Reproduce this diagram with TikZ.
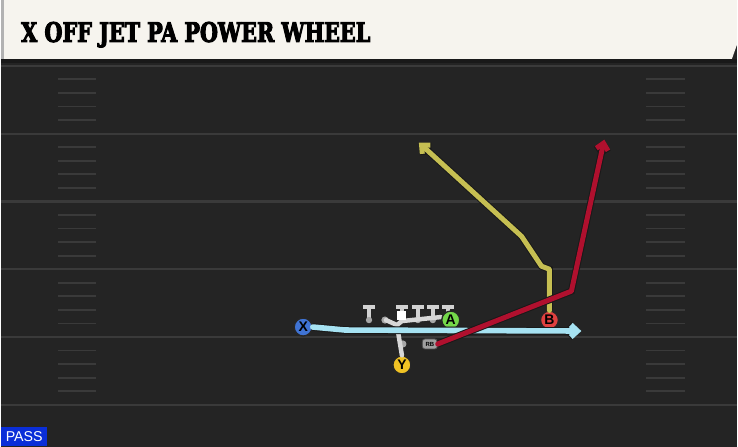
\documentclass[tikz,border=0pt]{standalone}
\usepackage{fontspec}
\setsansfont{Liberation Sans}
\newfontfamily\titlefont{DejaVu Serif Condensed Bold}[FakeBold=4]
\usepackage{xcolor}
\usetikzlibrary{arrows.meta}

\definecolor{field}{HTML}{242424}
\definecolor{yard}{HTML}{3A3A3A}
\definecolor{cream}{HTML}{F6F4EE}
\definecolor{xblue}{HTML}{3F73D4}
\definecolor{agreen}{HTML}{74D84A}
\definecolor{bred}{HTML}{E0403F}
\definecolor{yyellow}{HTML}{F0C224}
\definecolor{cyanroute}{HTML}{A6E2F2}
\definecolor{oliveroute}{HTML}{C6BF52}
\definecolor{redroute}{HTML}{B0102E}
\definecolor{lineman}{HTML}{D2D2D2}
\definecolor{passblue}{HTML}{0A2ED8}

\begin{document}
\begin{tikzpicture}[
    x=1pt,y=-1pt,
    yardline/.style={draw=yard,line width=2.2pt},
    hashmark/.style={draw=yard,line width=1.8pt},
    player/.style={circle,draw=black!85,line width=1.3pt,minimum size=18pt,inner sep=0pt,
        font=\sffamily\bfseries\fontsize{14}{14}\selectfont},
    route/.style={line width=5pt,line cap=round,line join=round,
        -{Straight Barb[length=6.5pt,width=12pt]},preaction={draw=black!90,line width=7pt}},
    blockline/.style={draw=lineman!90,line width=4.5pt,line cap=round,line join=round},
    rbbox/.style={rectangle,rounded corners=2.5pt,fill=gray!75,draw=black!70,line width=0.8pt,
        minimum width=15pt,minimum height=10pt,inner sep=0pt,
        font=\sffamily\bfseries\fontsize{6}{6}\selectfont}
]
	% field and header
	\fill[field] (0,0) rectangle (738,448);
	\fill[black!90] (0,59) rectangle (738,63);
	\foreach \yl in {66,134,...,406}
		\draw[yardline] (0,\yl) -- (738,\yl);
	\foreach \yl in {66,134,...,338}
		\foreach \k in {1,...,4} {
			\draw[hashmark] (57,\yl+13.6*\k) -- (95,\yl+13.6*\k);
			\draw[hashmark] (647,\yl+13.6*\k) -- (686,\yl+13.6*\k);
		}
	\fill[cream] (0,0) -- (738,0) -- (738,45) -- (733,59) -- (0,59) -- cycle;
	\fill[gray!60] (0,0) rectangle (2.5,59);
	\node[anchor=base west,inner sep=0pt] (title) at (20,42)
		{\resizebox{350pt}{20pt}{\titlefont X OFF JET PA POWER WHEEL}};

	% line
	\foreach \lx in {369,402,418,433,448} {
		\draw[lineman,line width=3.6pt] (\lx,309) -- (\lx,320);
		\draw[lineman,line width=4.6pt] (\lx-6,308) -- (\lx+6,308);
		\fill[gray!70] (\lx,321) circle (3.2pt);
	}
	\fill[gray!70] (385,321) circle (3.6pt);
	\coordinate (snap) at (397,326);
	\draw[blockline] (386,321) -- (snap) -- (402,322) -- (441,318);
	\fill[gray!70] (403,345) circle (3.6pt);

	% players
	\node[player,fill=xblue] (X) at (303,328) {X};
	\node[player,fill=agreen] (A) at (451,321) {A};
	\node[player,fill=bred] (B) at (550,321) {B};
	\node[player,fill=yyellow] (Y) at (402,366) {Y};
	\node[rbbox] (RB) at (430,345) {RB};
	\fill[white] (397,311.5) rectangle (406,320.5);
	\draw[blockline] (snap) -- (Y.north);

	% routes
	\coordinate (xtip) at (582,332);
	\coordinate (btip) at (419,143);
	\coordinate (rtip) at (605,140);
	\draw[route,draw=cyanroute,line width=5.6pt,preaction={draw=black!90,line width=7.6pt}] (X.east) -- (345,331) -- (xtip);
	\draw[route,draw=oliveroute] (B.north) -- (550,270) -- (542,267) -- (522,237) -- (btip);
	\draw[route,draw=redroute] (RB.east) -- (572,292) -- (rtip);

	\node[anchor=south west,fill=passblue,text=white,minimum width=46pt,minimum height=20pt,
		inner sep=0pt,font=\sffamily\fontsize{16}{16}\selectfont] (pass) at (0,448) {\resizebox{37pt}{!}{PASS}};
\end{tikzpicture}
\end{document}
